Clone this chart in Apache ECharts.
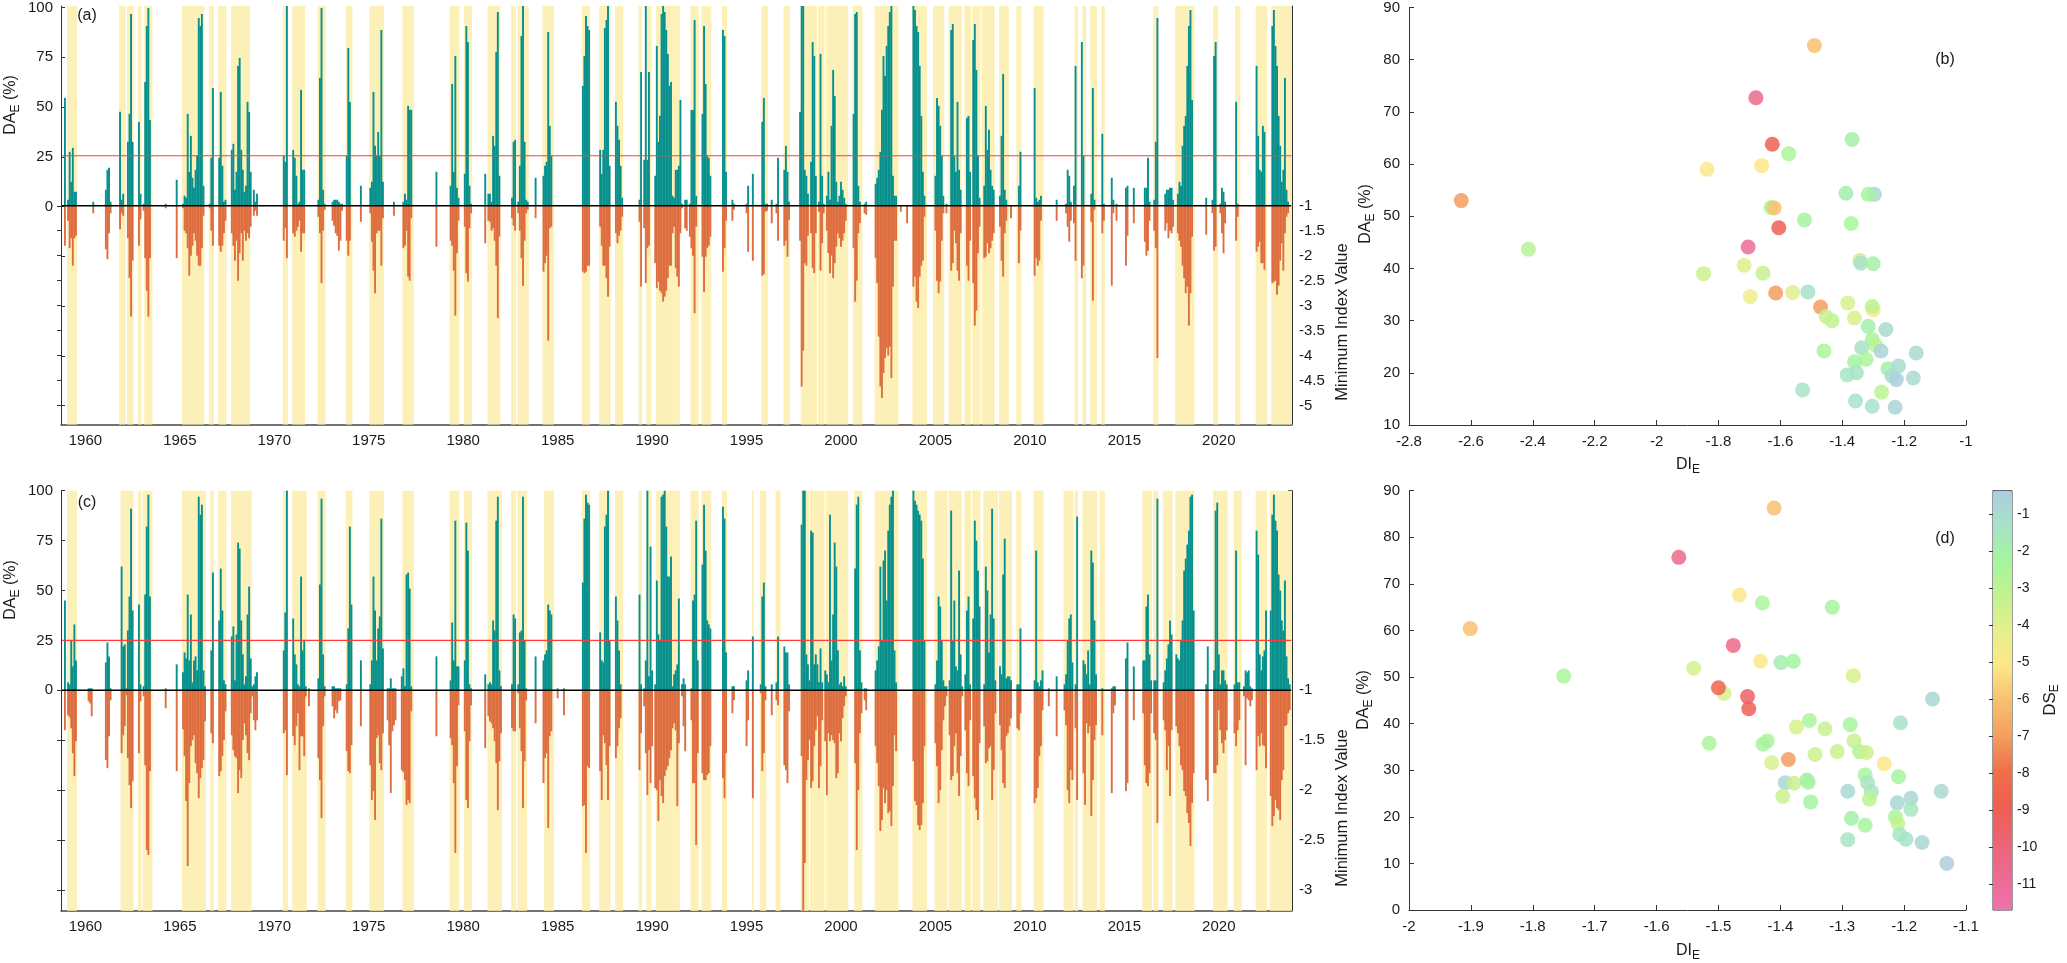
<!DOCTYPE html>
<html>
<head>
<meta charset="utf-8">
<script src="https://cdn.jsdelivr.net/npm/echarts@6/dist/echarts.min.js"></script>
<style>
html, body { margin: 0; background: #fff; }
#chart { width: 2067px; height: 963px; }
</style>
</head>
<body>
<div id="chart"></div>
<script>
// ---- data ----
// drought events: [first month, DA_E (%) per month, minimum index value per month]
var eventsA = [
  ['1958-12',[54],[-1.8]],
  ['1959-02',[3,27,12,29,7,7],[-1.3,-1.85,-1.65,-2.2,-1.65,-1.6]],
  ['1960-06',[2],[-1.15]],
  ['1961-02',[8,18,19,2],[-1.87,-2.07,-1.55,-1.15]],
  ['1961-11',[47,3,6],[-1.47,-1.15,-1.2]],
  ['1962-04',[32,46,96,32],[-1.65,-2.45,-3.22,-2.1]],
  ['1962-11',[42,6],[-1.8,-1.27]],
  ['1963-02',[1,62,90,99,43],[-1.1,-2.05,-2.7,-3.22,-2.05]],
  ['1964-04',[1],[-1.05]],
  ['1964-11',[13],[-2.05]],
  ['1965-03',[1,5,4,46,17,35,14,9,18,25,94,90,96,10],[-1.05,-1.5,-1.55,-1.85,-2.4,-2.0,-1.8,-1.55,-1.7,-2.0,-2.2,-2.2,-1.85,-1.2]],
  ['1966-08',[1,24,59],[-1.05,-1.5,-1.8]],
  ['1967-02',[24,57,20,2,3],[-1.8,-1.92,-1.8,-1.55,-1.3]],
  ['1967-10',[28,31,8,17,70,74,28,18,7,10,52,47,17],[-1.55,-1.8,-2.1,-1.7,-2.5,-1.95,-1.55,-2.1,-1.5,-1.7,-1.55,-1.65,-1.42]],
  ['1968-12',[8,2,6],[-1.2,-1.1,-1.2]],
  ['1970-07',[25,22,100],[-1.7,-1.45,-2.05]],
  ['1971-01',[28,24,15,1,2,58,18,18],[-1.55,-1.62,-1.5,-1.42,-1.3,-1.92,-1.55,-1.55]],
  ['1972-05',[3,64,99,8,1],[-1.22,-1.55,-2.55,-1.5,-1.08]],
  ['1973-02',[2,3,3,3,2,1,1],[-1.3,-1.4,-1.55,-1.6,-1.9,-1.7,-1.1]],
  ['1973-11',[25,79,52],[-1.7,-2.0,-1.7]],
  ['1974-08',[10],[-1.32]],
  ['1975-02',[9,12,57,30,25,37,25,88,12],[-1.15,-1.72,-2.3,-2.75,-1.55,-1.5,-1.5,-2.2,-1.25]],
  ['1976-05',[2],[-1.2]],
  ['1976-11',[2,6,3,50,48,48],[-1.85,-1.8,-1.5,-2.42,-2.5,-1.25]],
  ['1978-08',[17],[-1.82]],
  ['1979-05',[10,61,17,75,9,4],[-1.7,-1.8,-2.3,-3.2,-1.95,-1.3]],
  ['1980-02',[16,90,82,10,1],[-1.42,-2.35,-2.52,-1.45,-1.15]],
  ['1981-03',[16],[-1.75]],
  ['1981-05',[6,6,2,35,30,77,97,15],[-1.3,-1.32,-1.5,-1.45,-1.7,-2.2,-3.25,-1.62]],
  ['1982-08',[4,32,33],[-1.25,-1.4,-1.5]],
  ['1982-12',[2,20,85,100,32,3,2],[-1.15,-1.5,-2.05,-2.6,-1.7,-1.15,-1.08]],
  ['1983-11',[14],[-1.25]],
  ['1984-04',[15,20,22,87,40,25],[-2.32,-2.15,-2.0,-3.7,-1.45,-1.42]],
  ['1986-05',[60,75,95,90,88],[-2.32,-2.35,-2.32,-2.2,-2.2]],
  ['1987-04',[28,16,28,89,93,100,20],[-1.42,-1.8,-2.2,-2.2,-2.45,-2.82,-1.82]],
  ['1988-02',[52,40,33,20,4],[-1.55,-1.75,-1.6,-1.5,-1.22]],
  ['1989-05',[3,67],[-1.32,-2.62]],
  ['1989-08',[23,100,23,67],[-1.45,-2.55,-1.85,-1.8]],
  ['1990-03',[15,80,32,45,96,100,97,88,76,60,62,5,4,18,18,20,53],[-2.15,-2.65,-2.52,-2.7,-2.75,-2.92,-2.82,-2.7,-2.45,-2.2,-2.2,-1.55,-1.42,-2.25,-2.42,-2.62,-1.55]],
  ['1991-08',[1],[-1.05]],
  ['1991-10',[3,3],[-1.45,-1.5]],
  ['1992-01',[1,48,48,93,5],[-1.62,-1.85,-2.0,-3.15,-1.42]],
  ['1992-09',[46,90,61,25,24,15],[-2.02,-2.72,-2.02,-1.85,-1.8,-1.62]],
  ['1993-10',[88,85,17],[-2.32,-1.85,-1.3]],
  ['1994-04',[3,1],[-1.3,-1.08]],
  ['1995-01',[1,10],[-1.15,-1.92]],
  ['1995-05',[16],[-2.1]],
  ['1995-11',[42,54,1,1],[-2.4,-2.37,-1.12,-1.1]],
  ['1996-05',[3],[-1.35]],
  ['1996-08',[1,24],[-1.15,-1.7]],
  ['1997-01',[18,30,17,2],[-1.8,-1.7,-2.02,-1.28]],
  ['1997-11',[47,100,100,18,15,6],[-1.7,-4.62,-3.9,-2.15,-2.2,-1.6]],
  ['1998-06',[22,82,75,15],[-1.55,-2.25,-2.35,-1.55]],
  ['1998-11',[2,76,15,1],[-1.12,-2.3,-1.75,-1.15]],
  ['1999-04',[5,17,3,40,68,55,12,2,5,12,8,4,1],[-1.5,-1.95,-2.35,-2.0,-2.45,-2.15,-1.82,-1.55,-1.65,-1.82,-1.7,-1.55,-1.3]],
  ['2000-09',[46,96,97,10,2],[-1.85,-2.92,-2.5,-1.55,-1.35]],
  ['2001-04',[1,2],[-1.15,-1.18]],
  ['2001-11',[11,14,18,27,48,75,65,80,90,97,100,15,5,5],[-2.05,-2.55,-3.62,-4.62,-4.85,-4.35,-4.05,-3.85,-4.0,-3.82,-4.45,-2.62,-1.7,-1.7]],
  ['2003-03',[0],[-1.12]],
  ['2003-07',[0],[-1.35]],
  ['2003-11',[100,98,90,87,70,45,17,5],[-2.62,-2.42,-2.92,-3.05,-2.42,-2.2,-2.1,-1.22]],
  ['2005-01',[15,54,50,40,25,5],[-1.5,-2.5,-2.75,-2.52,-1.7,-1.15]],
  ['2005-08',[1],[-1.15]],
  ['2005-11',[88,91,25,17,52,18,8],[-2.3,-2.15,-1.5,-1.75,-2.3,-2.5,-1.55]],
  ['2006-09',[44,45,17],[-2.2,-2.5,-1.7]],
  ['2007-01',[83,91,68,25,4],[-2.55,-3.4,-3.1,-1.95,-1.42]],
  ['2007-08',[10,50,28,38,18,10,8],[-2.05,-2.02,-1.75,-1.95,-1.85,-1.7,-1.55]],
  ['2008-06',[5,35,66,8,3],[-1.42,-2.1,-2.42,-1.55,-1.3]],
  ['2009-01',[0],[-1.25]],
  ['2009-06',[10,27],[-2.15,-1.5]],
  ['2010-04',[59,4,2,3,5],[-2.4,-2.05,-2.2,-2.1,-1.3]],
  ['2011-06',[3],[-1.3]],
  ['2011-12',[1,18,15,2],[-1.15,-1.42,-1.72,-1.3]],
  ['2012-05',[10,70],[-1.35,-2.1]],
  ['2012-10',[82,25],[-2.45,-2.2]],
  ['2013-04',[6,59,3],[-1.32,-2.9,-1.08]],
  ['2013-11',[36,1],[-1.55,-1.3]],
  ['2014-05',[14,3],[-2.6,-1.15]],
  ['2014-08',[1],[-1.3]],
  ['2015-02',[9,10],[-2.2,-1.6]],
  ['2015-07',[9],[-1.35]],
  ['2016-02',[9,9,24,2],[-1.72,-2.0,-1.9,-1.3]],
  ['2016-08',[3,32,94],[-1.5,-1.85,-4.05]],
  ['2017-03',[6,8,8,9,9,3],[-1.5,-1.35,-1.65,-1.5,-1.55,-1.42]],
  ['2017-11',[6,12,10,30,40,45,70,90,98,53],[-1.55,-1.7,-1.82,-2.2,-2.45,-2.75,-2.62,-3.4,-2.75,-1.62]],
  ['2019-05',[4],[-1.58]],
  ['2019-09',[3,75,82],[-1.15,-1.9,-1.82]],
  ['2020-02',[1,9,7,2],[-1.15,-1.55,-1.95,-1.35]],
  ['2020-12',[52,1],[-1.7,-1.22]],
  ['2022-01',[70,35,18,17,40,37],[-1.92,-1.82,-1.72,-2.15,-2.15,-2.28]],
  ['2022-11',[90,98,80,70,45,30,12,18,64,8,2],[-2.55,-2.52,-2.5,-2.78,-2.6,-2.1,-1.75,-2.3,-1.55,-1.22,-1.15]]
];
// shaded drought periods, first and last month
var bandsA = [
  ['1959-02','1959-07'],['1961-11','1962-02'],['1962-04','1962-07'],['1962-11','1962-12'],['1963-03','1963-07'],
  ['1965-03','1966-04'],['1966-08','1966-10'],['1967-02','1967-06'],['1967-10','1968-09'],['1970-07','1970-09'],
  ['1971-01','1971-08'],['1972-05','1972-09'],['1973-11','1974-02'],['1975-02','1975-10'],['1976-11','1977-05'],
  ['1979-05','1979-10'],['1980-02','1980-06'],['1981-05','1981-12'],['1982-08','1982-10'],['1982-12','1983-06'],
  ['1984-04','1984-10'],['1986-05','1986-09'],['1987-04','1987-10'],['1988-02','1988-06'],['1989-05','1989-06'],
  ['1989-10','1989-12'],['1990-04','1991-06'],['1992-02','1992-06'],['1992-09','1993-02'],['1993-10','1993-12'],
  ['1995-11','1996-02'],['1997-01','1997-04'],['1997-12','1998-05'],['1998-06','1998-09'],['1998-11','1999-02'],
  ['1999-04','2000-05'],['2000-09','2001-02'],['2001-11','2003-01'],['2003-11','2004-07'],['2004-12','2005-06'],
  ['2005-10','2006-05'],['2006-08','2006-11'],['2007-01','2007-05'],['2007-07','2008-02'],['2008-06','2008-11'],
  ['2009-05','2009-07'],['2010-04','2010-09'],['2012-06','2012-07'],['2012-11','2012-12'],['2013-04','2013-07'],
  ['2013-11','2013-12'],['2016-08','2016-10'],['2017-10','2018-09'],['2019-10','2019-12'],['2020-12','2021-02'],
  ['2022-01','2022-07'],['2022-11','2023-11']
];
var eventsC = [
  ['1958-12',[45],[-1.4]],
  ['1959-02',[4,3,25,12,33,15],[-1.25,-1.27,-1.38,-1.63,-1.86,-1.51]],
  ['1960-03',[1,1,1],[-1.11,-1.13,-1.26]],
  ['1961-02',[14,24,17,1],[-1.7,-1.78,-1.46,-1.1]],
  ['1961-12',[62,22,23,1,30,47,91,40],[-1.63,-1.45,-1.36,-1.05,-1.68,-1.95,-2.18,-1.91]],
  ['1962-11',[43,3],[-1.63,-1.11]],
  ['1963-02',[2,48,82,98,47],[-1.06,-1.75,-2.6,-2.65,-1.81]],
  ['1964-04',[1],[-1.18]],
  ['1964-11',[13],[-1.81]],
  ['1965-03',[9,19,16,48,15,38,4,15,17,10,97,88,93,10,2],[-1.39,-1.66,-2.11,-2.76,-1.93,-1.56,-1.5,-1.45,-1.73,-1.83,-2.08,-1.88,-1.78,-1.7,-1.31]],
  ['1966-09',[20,59],[-1.43,-1.53]],
  ['1967-02',[35,61,40,5,3],[-1.86,-1.81,-1.66,-1.5,-1.21]],
  ['1967-10',[27,32,5,28,74,71,35,18,3,7,38,52,16,2],[-1.45,-1.6,-1.66,-1.68,-2.03,-1.8,-1.88,-1.5,-1.33,-1.45,-1.63,-1.7,-1.23,-1.06]],
  ['1968-12',[3,7,9],[-1.3,-1.4,-1.3]],
  ['1970-07',[20,39,100],[-1.43,-1.4,-1.85]],
  ['1971-01',[36,18,13,3,2,57,20,25,2],[-1.46,-1.55,-1.36,-1.23,-1.8,-1.46,-1.46,-1.66,-1.06]],
  ['1971-11',[1],[-1.16]],
  ['1972-05',[6,53,96,18,2],[-1.68,-1.9,-2.28,-1.36,-1.06]],
  ['1973-02',[2,2,1,1,1,1],[-1.16,-1.28,-1.2,-1.23,-1.11,-1.1]],
  ['1973-11',[3,31,82,43],[-1.61,-1.81,-1.83,-1.55]],
  ['1974-08',[15],[-1.36]],
  ['1975-02',[3,15,57,40,15,31,37,86,21],[-1.75,-2.1,-2.01,-2.3,-1.48,-1.45,-1.73,-1.8,-1.43]],
  ['1976-01',[1,1,6,1,1,1],[-1.3,-1.55,-2.03,-1.41,-1.35,-1.3]],
  ['1976-10',[7,11,2,58,59,51,2],[-1.8,-1.82,-1.9,-2.15,-2.1,-2.13,-1.21]],
  ['1978-08',[17],[-1.46]],
  ['1979-05',[5,34,15,85,12,12],[-1.48,-1.55,-1.93,-2.63,-1.76,-1.15]],
  ['1980-02',[15,84,70,3,1],[-1.41,-2.1,-2.18,-1.51,-1.15]],
  ['1981-03',[8],[-1.58]],
  ['1981-05',[3,4,3,35,30,85,97,10,2],[-1.26,-1.31,-1.33,-1.38,-1.51,-1.73,-2.2,-1.71,-1.43]],
  ['1982-08',[3,38,36],[-1.38,-1.41,-1.41]],
  ['1982-12',[3,29,30,97,25,1],[-1.03,-1.38,-1.61,-2.18,-1.71,-1.1]],
  ['1983-11',[17],[-1.33]],
  ['1984-04',[15,18,20,43,40,38],[-1.93,-1.68,-1.63,-2.38,-1.46,-1.41]],
  ['1985-01',[1],[-1.08]],
  ['1985-05',[1],[-1.25]],
  ['1986-05',[54,86,98,94,93],[-2.16,-2.15,-2.63,-1.76,-1.78]],
  ['1987-04',[29,15,14,82,88,100,25],[-1.81,-2.1,-1.45,-1.53,-1.75,-2.1,-1.56]],
  ['1988-02',[47,35,20,3],[-1.68,-1.56,-1.38,-1.28]],
  ['1989-05',[48,3],[-1.8,-1.43]],
  ['1989-08',[1,15,100,7,72,10],[-1.16,-1.63,-2.05,-1.6,-1.93,-1.56]],
  ['1990-03',[3,55,28,25,97,98,100,82,57,57,67,2,8,10,13,46],[-1.98,-2.0,-2.31,-1.9,-2.06,-2.13,-1.86,-1.8,-1.76,-1.68,-1.6,-1.38,-1.33,-1.4,-2.16,-1.53]],
  ['1991-08',[3,6,3],[-1.06,-1.36,-1.61]],
  ['1992-02',[1,45,48,85,15],[-1.3,-1.93,-1.93,-2.55,-1.63]],
  ['1992-09',[63,93,70,35,33,31],[-1.83,-1.9,-1.9,-1.85,-1.83,-1.56]],
  ['1993-10',[92,86,19],[-1.88,-2.08,-1.63]],
  ['1994-04',[2,2],[-1.23,-1.1]],
  ['1995-01',[5,10],[-1.56,-1.3]],
  ['1995-05',[27],[-2.08]],
  ['1995-10',[3,47,54,2],[-1.03,-1.81,-1.63,-1.1]],
  ['1996-05',[3],[-1.25]],
  ['1996-08',[4,27],[-1.1,-1.15]],
  ['1997-01',[22,19,19,3],[-1.75,-1.8,-1.93,-1.21]],
  ['1997-12',[83,100,100,18,13],[-1.66,-3.25,-2.73,-1.9,-1.7]],
  ['1998-05',[5,80,79,13,18,13,4,21,4],[-1.5,-1.98,-1.91,-1.56,-1.4,-1.26,-1.98,-1.76,-1.3]],
  ['1999-03',[10,8,4,88,15,38,74,62,20,3,4,2,7,2],[-1.51,-2.05,-1.43,-1.51,-1.45,-1.5,-1.53,-1.88,-1.83,-1.43,-1.51,-1.28,-1.16,-1.06]],
  ['2000-10',[61,93,97,20,4],[-1.73,-2.6,-2.0,-1.43,-1.23]],
  ['2001-04',[1,1],[-1.1,-1.2]],
  ['2001-11',[10,15,22,62,25,65,70,45,80,93,97,100,20,4],[-1.56,-1.73,-1.96,-2.41,-2.3,-1.98,-2.13,-2.0,-2.23,-2.21,-2.36,-1.96,-1.45,-1.61]],
  ['2003-11',[100,95,93,90,88,85,66,25],[-1.71,-2.11,-2.15,-2.35,-2.4,-2.35,-2.13,-1.56]],
  ['2005-01',[3,15,47,42,25,5,2,2],[-1.53,-1.76,-2.13,-2.0,-1.6,-1.3,-1.16,-1.06]],
  ['2005-10',[5,90,25,45,12,10,60,18,2],[-1.45,-1.9,-1.86,-1.56,-1.43,-1.83,-2.06,-1.66,-1.06]],
  ['2006-08',[8,40,47,3],[-1.4,-1.83,-1.96,-1.3]],
  ['2007-01',[36,85,75,60,42],[-1.86,-2.08,-2.2,-2.3,-1.53]],
  ['2007-08',[3,62,50,19,38,91,36,5],[-1.36,-1.73,-1.71,-1.58,-1.56,-2.1,-1.8,-1.23]],
  ['2008-06',[12,8,58,76,6,7,7,5],[-1.35,-1.6,-1.93,-1.98,-1.46,-1.43,-1.36,-1.28]],
  ['2009-05',[3,3,31],[-1.38,-1.4,-1.23]],
  ['2010-04',[5,70,4,2,5,10],[-2.13,-2.08,-1.98,-1.66,-1.56,-1.2]],
  ['2011-01',[1],[-1.16]],
  ['2011-06',[7],[-1.46]],
  ['2011-11',[3,8,25,36,38,14],[-1.2,-1.35,-2.0,-2.13,-1.8,-1.9]],
  ['2012-06',[3,87],[-1.38,-2.1]],
  ['2012-11',[15,13,8,20,3,70,64,35,8],[-1.83,-2.15,-1.33,-1.43,-1.36,-2.26,-1.9,-1.5,-1.35]],
  ['2013-11',[1],[-1.45]],
  ['2014-05',[1,2,2],[-2.03,-1.23,-1.15]],
  ['2015-02',[16,24],[-2.01,-1.93]],
  ['2015-07',[12],[-1.3]],
  ['2016-01',[15,15,42,48,18,5],[-1.23,-1.75,-1.93,-1.96,-1.83,-1.23]],
  ['2016-08',[5,5,96],[-1.43,-1.5,-2.33]],
  ['2017-02',[4,10,16,23,35,28],[-1.3,-1.4,-1.8,-1.56,-2.06,-1.4]],
  ['2017-10',[18,16,15,25,35,60,66,73,80,97,98,40],[-1.36,-1.43,-1.56,-1.75,-1.8,-2.01,-2.06,-2.23,-2.33,-2.56,-2.13,-1.83]],
  ['2019-05',[3,22],[-1.9,-2.11]],
  ['2019-10',[10,90,94,18,3,10,10,5,3],[-1.83,-1.83,-1.75,-1.2,-1.4,-1.53,-1.63,-1.5,-1.4]],
  ['2020-11',[3,70,4,4],[-1.43,-1.56,-1.4,-1.3]],
  ['2021-05',[2,10,9,10,2,1],[-1.06,-1.75,-1.08,-1.1,-1.16,-1.1]],
  ['2022-01',[80,68,18,10,17,20,40],[-1.8,-1.46,-1.56,-1.43,-1.55,-1.56,-1.78]],
  ['2022-10',[40,88,98,85,80,58,50,35,30,55,17,6,3],[-2.06,-2.36,-2.26,-2.1,-2.18,-2.2,-2.3,-1.9,-1.8,-1.36,-1.35,-1.23,-1.2]]
];
var bandsC = [
  ['1959-02','1959-07'],['1961-12','1962-07'],['1962-11','1962-12'],['1963-02','1963-07'],['1965-03','1966-05'],
  ['1966-09','1966-10'],['1967-02','1967-06'],['1967-10','1968-10'],['1970-07','1970-09'],['1971-01','1971-09'],
  ['1972-05','1972-09'],['1973-11','1974-02'],['1975-02','1975-10'],['1976-11','1977-05'],['1979-05','1979-10'],
  ['1980-02','1980-06'],['1981-05','1982-01'],['1982-08','1982-10'],['1982-12','1983-05'],['1984-05','1984-10'],
  ['1986-05','1986-09'],['1987-04','1987-10'],['1988-02','1988-06'],['1989-05','1989-06'],['1989-10','1989-12'],
  ['1990-04','1991-06'],['1992-02','1992-06'],['1992-09','1993-02'],['1993-10','1993-12'],['1995-05','1995-05'],
  ['1995-10','1996-01'],['1996-08','1996-10'],['1997-12','1998-04'],['1998-06','1999-02'],['1999-04','2000-05'],
  ['2000-10','2001-02'],['2001-11','2003-01'],['2003-11','2004-07'],['2005-01','2005-08'],['2005-10','2006-05'],
  ['2006-08','2006-11'],['2007-01','2007-05'],['2007-08','2008-04'],['2008-06','2009-01'],['2009-05','2009-07'],
  ['2010-04','2010-09'],['2011-11','2012-04'],['2012-06','2012-07'],['2012-11','2013-07'],['2013-10','2013-12'],
  ['2016-01','2016-06'],['2016-08','2016-10'],['2017-02','2017-07'],['2017-10','2018-09'],['2019-10','2020-06'],
  ['2020-11','2021-03'],['2022-01','2022-07'],['2022-10','2023-11']
];
var threshold = 25;

// scatter (b): DI_E, DA_E (%), DS_E
var diB = [-1.49,-1.679,-1.368,-1.626,-1.573,-1.837,-1.66,-2.631,-1.388,-1.296,-1.316,-1.63,-1.62,-1.522,-1.371,-1.605,-2.414,-1.704,-1.343,-1.34,-1.3,-1.717,-1.848,-1.656,-1.697,-1.615,-1.56,-1.511,-1.47,-1.382,-1.3,-1.303,-1.452,-1.433,-1.361,-1.316,-1.259,-1.303,-1.292,-1.337,-1.275,-1.459,-1.161,-1.36,-1.323,-1.252,-1.218,-1.384,-1.354,-1.239,-1.225,-1.17,-1.528,-1.273,-1.357,-1.303,-1.229];
var daB = [82.7,72.7,64.7,63.8,62.0,59.0,59.7,53.0,54.4,54.2,54.2,51.7,51.6,49.3,48.6,47.8,43.7,44.1,41.5,41.0,40.9,40.6,39.0,39.1,34.6,35.3,35.4,35.5,32.6,33.4,32.1,32.7,30.8,30.0,30.5,28.9,28.3,26.4,25.3,24.8,24.2,24.2,23.8,22.1,22.6,20.8,21.3,19.6,20.0,19.4,18.7,19.0,16.7,16.3,14.6,13.6,13.4];
var dsB = [-6,-10.5,-2,-9,-2.5,-5,-5,-7,-1.8,-0.8,-2.3,-2.5,-6,-2.2,-2.5,-9,-2.8,-11,-3.5,-1.2,-2,-4,-3.5,-3.3,-4.5,-7,-4,-1.3,-7,-3.8,-5,-3,-3.5,-3.2,-3.8,-2,-1,-2.3,-3,-1.3,-0.6,-2.5,-1,-2.2,-2.5,-2,-1,-1.5,-1.3,-1.0,-0.5,-1,-1.4,-3,-1.3,-1.2,-0.7];
// scatter (d)
var diD = [-1.41,-1.564,-1.466,-1.429,-1.316,-1.901,-1.476,-1.432,-1.399,-1.379,-1.54,-1.75,-1.282,-1.491,-1.5,-1.453,-1.451,-1.154,-1.353,-1.374,-1.328,-1.287,-1.206,-1.515,-1.421,-1.428,-1.281,-1.308,-1.272,-1.261,-1.344,-1.387,-1.414,-1.232,-1.263,-1.209,-1.259,-1.392,-1.378,-1.357,-1.355,-1.291,-1.253,-1.14,-1.396,-1.351,-1.256,-1.189,-1.211,-1.189,-1.214,-1.21,-1.285,-1.263,-1.207,-1.197,-1.171,-1.291,-1.131];
var daD = [86.3,75.7,67.6,65.9,65.0,60.4,56.8,53.4,53.1,53.4,51.9,50.2,50.3,46.5,47.7,45.8,43.2,45.3,40.7,39.3,38.9,39.8,40.2,35.8,36.3,35.6,36.3,34.0,34.0,33.8,33.4,32.3,31.6,31.4,29.0,28.6,27.3,27.3,27.2,27.9,27.4,25.5,25.4,25.5,24.4,23.2,23.8,24.0,23.0,21.6,20.0,18.6,19.7,18.2,16.2,15.2,14.5,15.1,10.0];
var dsD = [-6,-10.5,-5,-2.5,-2.3,-6,-10.5,-5,-1.8,-2.2,-3.7,-2.5,-3.8,-3.8,-8.5,-9.5,-9,-0.8,-2.5,-3.8,-3.3,-2.3,-1.3,-2.5,-2.5,-2.3,-3.5,-3.5,-2.6,-3.5,-3.5,-7,-3.8,-5,-2.3,-2.2,-1.5,-0.8,-3.5,-1.8,-2.3,-0.8,-1.5,-1,-3.5,-2.2,-3,-0.8,-0.8,-1.5,-2.5,-3.2,-2,-2.3,-1.5,-1.3,-0.8,-1.4,-0.5];
var dsRange = [-11.69, -0.36];

// ---- chart ----
var FONT = '"Liberation Sans", Arial, Helvetica, sans-serif';
var INK = '#1a1a1a';
var AX = '#333';
var TEAL = '#07908E', ORANGE = '#DE6D3F', SAND = '#FCF0B6', RED = '#FF3C3C';
var cmap = ['#EE72AE','#EC6A92','#EC6474','#EE5F50','#F07048','#F3A060','#F8C070','#FDE788','#E4F08C','#C2F290','#A4F59E','#A8E2C8','#ABCDE0'];

var months = [];
(function () {
  var y = 1958, m = 10;
  while (y < 2023 || (y === 2023 && m <= 11)) {
    months.push(y + '-' + (m < 10 ? '0' + m : m));
    m++; if (m > 12) { m = 1; y++; }
  }
})();
function monthIndex(s) { return (+s.slice(0, 4) - 1958) * 12 + (+s.slice(5, 7) - 10); }

// index axis spans -1 .. -(1+idxSpan) over the same height as 0 .. -100 %
function buildPanel(events, bands, idxSpan) {
  var n = months.length, k = 100 / idxSpan;
  var da = [], mi = [], dr = [];
  for (var i = 0; i < n; i++) { da.push(null); mi.push(null); dr.push(null); }
  events.forEach(function (e) {
    var s = monthIndex(e[0]);
    e[1].forEach(function (v, j) { if (v > 0) da[s + j] = v; });
    e[2].forEach(function (v, j) { mi[s + j] = (v + 1) * k; });
  });
  bands.forEach(function (b) {
    for (var i = monthIndex(b[0]); i <= monthIndex(b[1]); i++) dr[i] = 1;
  });
  return { da: da, mi: mi, dr: dr };
}
var A = buildPanel(eventsA, bandsA, 4);
var C = buildPanel(eventsC, bandsC, 2);

function isYearTick(i) {
  var s = months[i];
  return s.slice(5) === '01' && (+s.slice(0, 4)) % 5 === 0;
}
var lbl = { fontFamily: FONT, fontSize: 15, color: INK };

function timeX(g) {
  return {
    type: 'category', gridIndex: g, data: months, boundaryGap: true,
    axisLine: { onZero: false, lineStyle: { color: '#444', width: 1.5 } },
    axisTick: { inside: true, length: 12, interval: isYearTick, lineStyle: { color: '#444', width: 1.5 } },
    axisLabel: Object.assign({ interval: isYearTick, margin: 9, formatter: function (v) { return v.slice(0, 4); } }, lbl),
    splitLine: { show: false }
  };
}
function hiddenX(g) { return { type: 'value', gridIndex: g, min: 0, max: 1, show: false }; }
function frameY(g, min, pos) {
  return {
    type: 'value', gridIndex: g, min: min, max: 100, position: pos,
    axisLine: { show: true, onZero: false, lineStyle: { color: AX, width: 1 } },
    axisTick: { show: false }, axisLabel: { show: false }, splitLine: { show: false }
  };
}
function bandY(g) { return { type: 'value', gridIndex: g, min: 0, max: 1, show: false }; }
function pctY(g, pos, labels) {
  return {
    type: 'value', gridIndex: g, position: pos, min: -100, max: 100, interval: 25,
    axisLine: { show: false },
    axisTick: { inside: true, length: 4, lineStyle: { color: AX } },
    axisLabel: Object.assign({ show: labels, margin: 8, formatter: function (v) { return v >= 0 ? v : ''; } }, lbl),
    splitLine: { show: false }
  };
}
function idxY(g, min) {
  return {
    type: 'value', gridIndex: g, position: 'right', min: min, max: -1, interval: 0.5,
    axisLine: { show: false },
    axisTick: { inside: true, length: 4, lineStyle: { color: AX } },
    axisLabel: Object.assign({ margin: 7 }, lbl),
    splitLine: { show: false }
  };
}
function sc(g, min, max, interval) {
  return {
    type: 'value', gridIndex: g, min: min, max: max, interval: interval,
    axisLine: { onZero: false, lineStyle: { color: AX, width: 1 } },
    axisTick: { inside: true, length: 5, lineStyle: { color: AX } },
    axisLabel: Object.assign({ margin: 9 }, lbl),
    splitLine: { show: false }
  };
}
function bars(xi, yi, data, color) {
  return {
    type: 'bar', xAxisIndex: xi, yAxisIndex: yi, data: data,
    barWidth: 1.9, barGap: '-100%', itemStyle: { color: color }, silent: true
  };
}
// horizontal reference line across the whole time axis (threshold / zero)
function hline(xi, yi, value, color, width) {
  return {
    type: 'line', xAxisIndex: xi, yAxisIndex: yi, z: 6, silent: true,
    data: months.map(function () { return value; }),
    showSymbol: false, symbol: 'none',
    lineStyle: { color: color, width: width, type: 'solid' }
  };
}
function txt(x, y, text, size, rot) {
  return {
    type: 'text', x: x, y: y, rotation: rot || 0, silent: true,
    style: {
      text: text, fontFamily: FONT, fontSize: size, fill: INK, align: 'center', verticalAlign: 'middle',
      rich: { s: { fontFamily: FONT, fontSize: Math.round(size * 0.72), fill: INK, padding: [Math.round(size * 0.6), 0, 0, 0] } }
    }
  };
}
var R = Math.PI / 2;

var option = {
  animation: false,
  backgroundColor: '#fff',
  grid: [
    { left: 61, top: 6, width: 1231, height: 418.5 },
    { left: 61, top: 490.7, width: 1231, height: 420 },
    { left: 61, top: 6, width: 1231, height: 399.5 },
    { left: 61, top: 205.76, width: 1231, height: 199.76 },
    { left: 61, top: 490.7, width: 1231, height: 399.24 },
    { left: 61, top: 690.32, width: 1231, height: 199.62 },
    { left: 1409, top: 6, width: 557, height: 419 },
    { left: 1409, top: 490.7, width: 557, height: 419.3 },
    { left: 1993, top: 514.3, width: 19, height: 370 },
    { left: 1993, top: 490.7, width: 19, height: 419.3, show: true, borderColor: '#333', borderWidth: 1, backgroundColor: 'transparent' }
  ],
  xAxis: [
    timeX(0), timeX(1), hiddenX(2), hiddenX(3), hiddenX(4), hiddenX(5),
    sc(6, -2.8, -1, 0.2), sc(7, -2, -1.1, 0.1), hiddenX(8), hiddenX(9)
  ],
  yAxis: [
    frameY(0, -109.5, 'left'), frameY(0, -109.5, 'right'), bandY(0),
    frameY(1, -110.4, 'left'), frameY(1, -110.4, 'right'), bandY(1),
    pctY(2, 'left', true), pctY(2, 'right', false), idxY(3, -5),
    pctY(4, 'left', true), pctY(4, 'right', false), idxY(5, -3),
    sc(6, 10, 90, 10), sc(7, 0, 90, 10),
    {
      type: 'value', gridIndex: 8, position: 'right', min: -11, max: -1, interval: 1,
      axisLine: { show: false },
      axisTick: { inside: true, length: 4, lineStyle: { color: AX } },
      axisLabel: { margin: 5, fontFamily: FONT, fontSize: 14, color: INK },
      splitLine: { show: false }
    },
    { type: 'value', gridIndex: 9, min: 0, max: 1, show: false }
  ],
  visualMap: [
    {
      type: 'continuous', seriesIndex: 7, dimension: 2, min: dsRange[0], max: dsRange[1],
      calculable: false, show: true, orient: 'vertical', left: 1993, top: 490.7,
      itemWidth: 19, itemHeight: 419.3, padding: 0, text: null, inRange: { color: cmap }
    },
    {
      type: 'continuous', seriesIndex: 6, dimension: 2, min: dsRange[0], max: dsRange[1],
      show: false, inRange: { color: cmap }
    }
  ],
  series: [
    bars(0, 2, A.dr, SAND),
    bars(0, 0, A.da, TEAL),
    bars(0, 0, A.mi, ORANGE),
    bars(1, 5, C.dr, SAND),
    bars(1, 3, C.da, TEAL),
    bars(1, 3, C.mi, ORANGE),
    {
      type: 'scatter', xAxisIndex: 6, yAxisIndex: 12, symbolSize: 15, silent: true,
      itemStyle: { opacity: 0.85 },
      data: diB.map(function (x, i) { return [x, daB[i], dsB[i]]; })
    },
    {
      type: 'scatter', xAxisIndex: 7, yAxisIndex: 13, symbolSize: 15, silent: true,
      itemStyle: { opacity: 0.85 },
      data: diD.map(function (x, i) { return [x, daD[i], dsD[i]]; })
    },
    hline(0, 0, threshold, RED, 1.1), hline(0, 0, 0, '#000', 1.4),
    hline(1, 3, threshold, RED, 1.1), hline(1, 3, 0, '#000', 1.4)
  ],
  graphic: [
    txt(87, 16, '(a)', 16), txt(87, 503, '(c)', 16),
    txt(1945, 60, '(b)', 16), txt(1945, 539, '(d)', 16),
    txt(11, 105, 'DA{s|E} (%)', 16, R), txt(11, 590, 'DA{s|E} (%)', 16, R),
    txt(1342, 322, 'Minimum Index Value', 16.5, R), txt(1342, 808, 'Minimum Index Value', 16.5, R),
    txt(1366, 214, 'DA{s|E} (%)', 16, R), txt(1364, 700, 'DA{s|E} (%)', 16, R),
    txt(1688, 465, 'DI{s|E}', 16), txt(1688, 951, 'DI{s|E}', 16),
    txt(2050, 700, 'DS{s|E}', 17, R)
  ]
};

var chart = echarts.init(document.getElementById('chart'), null, { renderer: 'canvas' });
chart.setOption(option);
</script>
</body>
</html>
